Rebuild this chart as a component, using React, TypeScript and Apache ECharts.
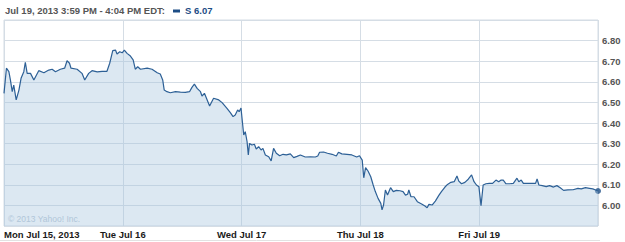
import React, { useEffect, useRef } from "react";
import * as echarts from "echarts";

// trading minutes since Monday 9:30 open (390 per session)
const times = [
  0, 8, 16, 21, 27, 32, 40, 49, 56, 65, 70, 76, 87, 98, 114, 131, 147, 158, 169, 185, 199, 207, 215, 220, 240, 256, 265, 278, 289, 306, 322, 338, 347, 357, 366, 371, 380, 388,
  395, 404, 415, 424, 431, 439, 448, 470, 486, 503, 513, 521, 526, 535, 546, 563, 579, 595, 609, 617, 625, 634, 645, 650, 658, 667, 675, 688, 705, 716, 732, 743, 752, 759, 767, 772, 778,
  787, 792, 798, 802, 806, 814, 822, 828, 836, 844, 850, 858, 869, 877, 885, 894, 905, 916, 927, 940, 951, 962, 973, 989, 1006, 1022, 1030, 1036, 1049, 1062, 1077, 1091, 1098, 1109, 1126, 1142, 1158, 1167,
  1176, 1181, 1187, 1195, 1204, 1212, 1219, 1228, 1237, 1241, 1246, 1252, 1259, 1269, 1278, 1288, 1300, 1310, 1318, 1325, 1329, 1336, 1346, 1357, 1371, 1382, 1389, 1395, 1406, 1416, 1428, 1436, 1447, 1456, 1467, 1478, 1487, 1493, 1502, 1513, 1524, 1535, 1543, 1551, 1559,
  1566, 1573, 1582, 1593, 1604, 1615, 1624, 1632, 1639, 1648, 1659, 1672, 1684, 1690, 1698, 1705, 1720, 1736, 1745, 1750, 1756, 1767, 1780, 1791, 1804, 1815, 1826, 1837, 1851, 1868, 1884, 1895, 1909, 1922, 1933, 1942, 1950,
];

const prices = [
  6.544, 6.666, 6.649, 6.609, 6.552, 6.584, 6.512, 6.56, 6.617, 6.649, 6.695, 6.641, 6.641, 6.609, 6.654, 6.644, 6.657, 6.661, 6.649, 6.661, 6.666, 6.702, 6.69, 6.666, 6.661, 6.641, 6.609, 6.641, 6.654, 6.648, 6.651, 6.651, 6.69, 6.751, 6.754, 6.735, 6.746, 6.741,
  6.754, 6.738, 6.725, 6.706, 6.661, 6.673, 6.661, 6.666, 6.661, 6.644, 6.638, 6.609, 6.56, 6.552, 6.547, 6.552, 6.55, 6.549, 6.552, 6.573, 6.589, 6.568, 6.552, 6.531, 6.544, 6.512, 6.483, 6.52, 6.512, 6.499, 6.471, 6.45, 6.431, 6.439, 6.463, 6.455, 6.473,
  6.342, 6.358, 6.309, 6.245, 6.301, 6.293, 6.297, 6.274, 6.285, 6.269, 6.277, 6.245, 6.236, 6.216, 6.277, 6.253, 6.241, 6.248, 6.245, 6.25, 6.232, 6.238, 6.245, 6.235, 6.236, 6.235, 6.24, 6.258, 6.259, 6.253, 6.248, 6.24, 6.258, 6.25, 6.248, 6.245, 6.235, 6.241,
  6.22, 6.134, 6.183, 6.167, 6.139, 6.099, 6.067, 6.034, 6.01, 5.978, 6.002, 6.075, 6.05, 6.086, 6.067, 6.073, 6.071, 6.067, 6.05, 6.054, 6.075, 6.042, 6.042, 6.018, 6.007, 5.997, 5.989, 6.005, 6.002, 6.021, 6.05, 6.067, 6.088, 6.102, 6.112, 6.115, 6.143, 6.118, 6.105, 6.112, 6.127, 6.148, 6.115, 6.099, 6.091,
  5.999, 6.099, 6.105, 6.107, 6.107, 6.123, 6.115, 6.123, 6.123, 6.105, 6.105, 6.107, 6.132, 6.115, 6.123, 6.107, 6.107, 6.107, 6.107, 6.128, 6.099, 6.096, 6.091, 6.096, 6.089, 6.096, 6.086, 6.073, 6.075, 6.076, 6.083, 6.08, 6.086, 6.083, 6.08, 6.075, 6.07,
];

const dayLabels = ["Mon Jul 15, 2013", "Tue Jul 16", "Wed Jul 17", "Thu Jul 18", "Fri Jul 19", ""];
const headerText = "Jul 19, 2013 3:59 PM - 4:04 PM EDT:";
const legendText = "S 6.07";
const lastPrice = 6.07;
const copyright = "\u00A9 2013 Yahoo! Inc.";

const FONT = "'Liberation Sans', Arial, sans-serif";

export default function App() {
  const ref = useRef<HTMLDivElement>(null);
  useEffect(() => {
    if (!ref.current) return;
    const chart = echarts.init(ref.current, undefined, { renderer: "svg" });
    const data = times.map((t, i) => [t, prices[i]]);
    chart.setOption({
      animation: false,
      grid: {
        left: 4,
        right: 27,
        top: 20,
        bottom: 16,
        show: true,
        borderColor: "#d5dde5",
        borderWidth: 1,
      },
      xAxis: {
        type: "value",
        min: 0,
        max: 1950,
        interval: 390,
        axisLine: { show: false },
        axisTick: { show: false },
        splitLine: { show: true, lineStyle: { color: "#d5dde5", width: 1 } },
        axisLabel: {
          formatter: (v: number) => dayLabels[Math.round(v / 390)] || "",
          color: "#1a1a1a",
          fontWeight: "bold",
          fontSize: 9.5,
          fontFamily: FONT,
          margin: 3,
          alignMinLabel: "left",
          showMaxLabel: false,
        },
      },
      yAxis: {
        type: "value",
        position: "right",
        min: 5.9,
        max: 6.9,
        interval: 0.1,
        axisLine: { show: false },
        axisTick: { show: false },
        splitLine: { show: true, lineStyle: { color: "#d5dde5", width: 1 } },
        axisLabel: {
          showMinLabel: false,
          showMaxLabel: false,
          formatter: (v: number) => v.toFixed(2),
          color: "#555",
          fontWeight: "bold",
          fontSize: 9.5,
          fontFamily: FONT,
          margin: 4,
        },
      },
      series: [
        {
          type: "line",
          data,
          symbol: "none",
          showSymbol: false,
          lineStyle: { color: "#2d6096", width: 1.2 },
          areaStyle: { color: "rgba(165,196,222,0.55)", origin: "start" },
        },
        {
          type: "scatter",
          data: [[1950, lastPrice]],
          symbolSize: 6,
          itemStyle: { color: "#1d4d85" },
        },
      ],
      graphic: [
        {
          type: "text",
          left: 5,
          top: 5,
          style: { text: headerText, fill: "#555", font: `bold 9.5px ${FONT}` },
        },
        {
          type: "rect",
          shape: { x: 173, y: 9.5, width: 7, height: 3 },
          style: { fill: "#1d4d85" },
        },
        {
          type: "text",
          left: 185,
          top: 5,
          style: { text: legendText, fill: "#1d4d85", font: `bold 9.5px ${FONT}` },
        },
        {
          type: "text",
          left: 8,
          top: 214,
          style: { text: copyright, fill: "#b8c8d6", font: `8.5px ${FONT}` },
        },
        {
          type: "line",
          shape: { x1: 0, y1: 240.5, x2: 600, y2: 240.5 },
          style: { stroke: "#e2e2e2", lineWidth: 1 },
        },
      ],
    });
    return () => chart.dispose();
  }, []);
  return (
    <div
      ref={ref}
      style={{ position: "fixed", left: 0, top: 0, width: 625, height: 242, background: "#fff" }}
    />
  );
}
